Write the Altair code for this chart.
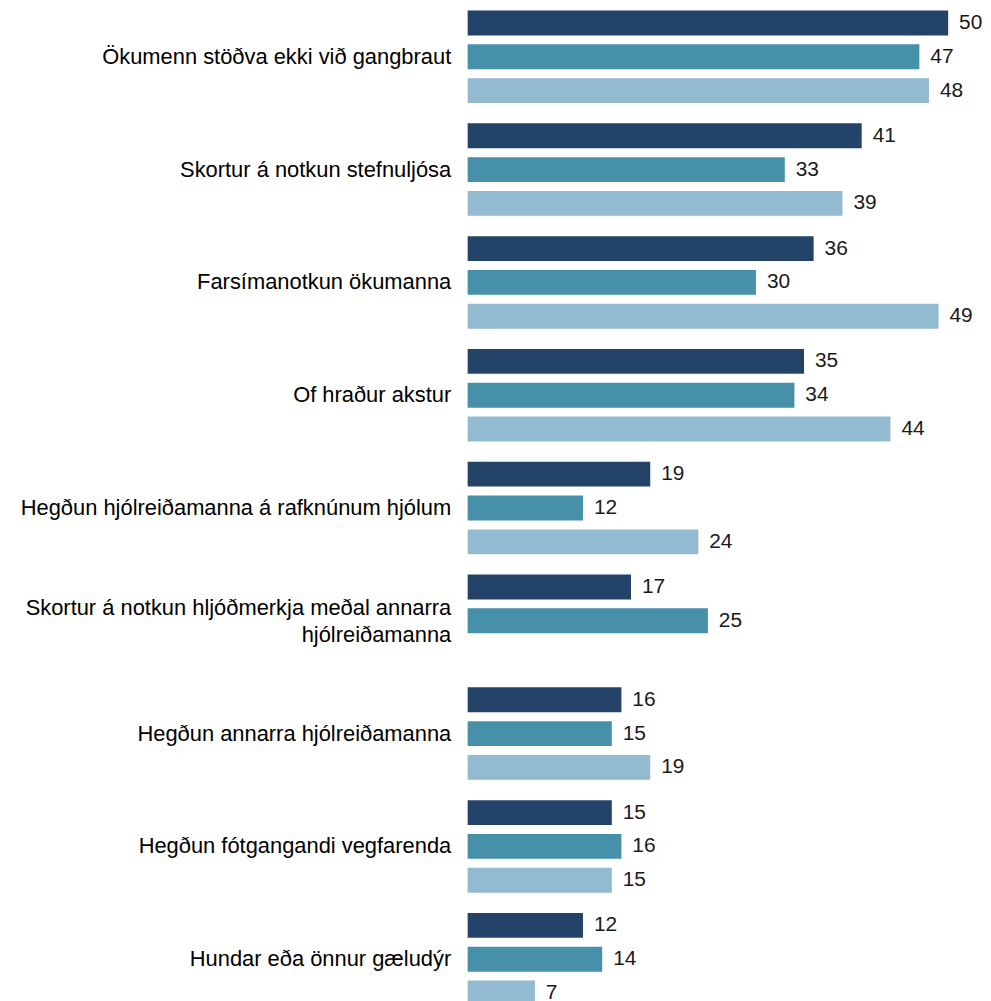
import altair as alt
import pandas as pd

categories = [
    "Ökumenn stöðva ekki við gangbraut",
    "Skortur á notkun stefnuljósa",
    "Farsímanotkun ökumanna",
    "Of hraður akstur",
    "Hegðun hjólreiðamanna á rafknúnum hjólum",
    "Skortur á notkun hljóðmerkja meðal annarra\u00a0\nhjólreiðamanna",
    "Hegðun annarra hjólreiðamanna",
    "Hegðun fótgangandi vegfarenda",
    "Hundar eða önnur gæludýr",
]
series_names = ["Röð 1", "Röð 2", "Röð 3"]
series_1 = [50, 41, 36, 35, 19, 17, 16, 15, 12]
series_2 = [47, 33, 30, 34, 12, 25, 15, 16, 14]
series_3 = [48, 39, 49, 44, 24, None, 19, 15, 7]
colors = ["#234468", "#4790AA", "#92BAD1"]

rows = []
for name, vals in zip(series_names, [series_1, series_2, series_3]):
    for cat, v in zip(categories, vals):
        if v is not None:
            rows.append({"cat": cat, "series": name, "value": v})
df = pd.DataFrame(rows)

FONT = "Liberation Sans"

base = alt.Chart(df).encode(
    y=alt.Y(
        "cat:N",
        sort=categories,
        scale=alt.Scale(domain=categories, paddingInner=0.18, paddingOuter=0),
        axis=alt.Axis(
            title=None,
            domain=False,
            ticks=False,
            labelPadding=17,
            labelFontSize=22,
            labelFont=FONT,
            labelColor="#000000",
            labelLimit=460,
            minExtent=462,
            maxExtent=462,
            labelLineHeight=27,
            labelExpr="split(datum.label, '\\n')",
            labelOffset={
                "condition": {"test": "indexof(datum.label, '\\n') >= 0", "value": -13},
                "value": 0,
            },
        ),
    ),
    yOffset=alt.YOffset(
        "series:N",
        sort=series_names,
        scale=alt.Scale(domain=series_names, paddingInner=0.265, paddingOuter=0),
    ),
    x=alt.X("value:Q", scale=alt.Scale(domain=[0, 50], nice=False), axis=None),
)

bars = base.mark_bar().encode(
    color=alt.Color(
        "series:N",
        scale=alt.Scale(domain=series_names, range=colors),
        legend=None,
    )
)

labels = base.mark_text(
    align="left", baseline="middle", dx=11, fontSize=21, font=FONT, color="#1a1a1a"
).encode(text="value:Q")

chart = (
    (bars + labels)
    .properties(width=483, height=1000, padding=0)
    .configure_view(stroke=None)
)

chart.save("out.html", embed_options={"renderer": "svg", "actions": False})
